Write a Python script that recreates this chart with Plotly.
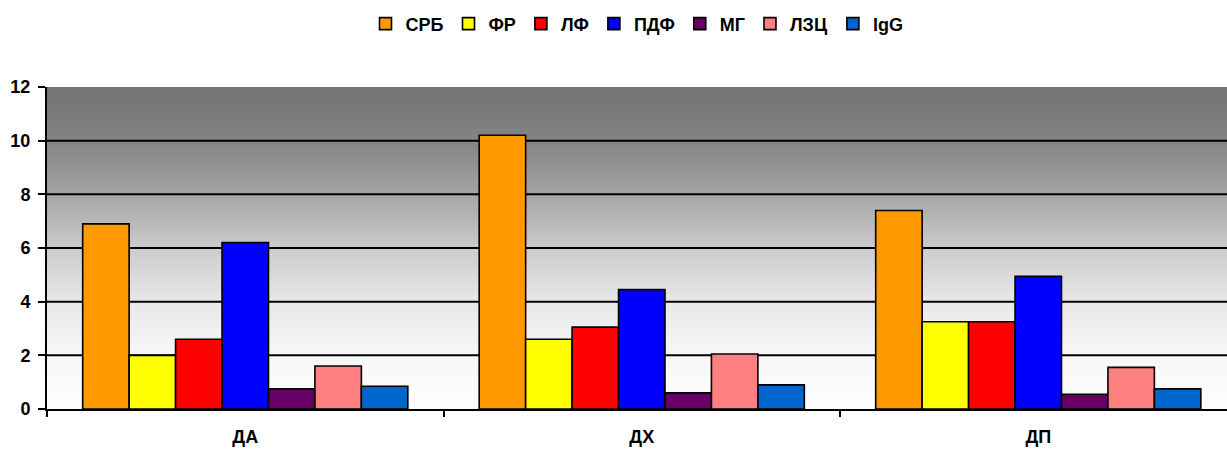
import numpy as np
import plotly.graph_objects as go

# Groups and series
categories = ["ДА", "ДХ", "ДП"]
series_names = ["СРБ", "ФР", "ЛФ", "ПДФ", "МГ", "ЛЗЦ", "IgG"]
srb = [6.9, 10.2, 7.4]
fr = [2.0, 2.6, 3.25]
lf = [2.6, 3.05, 3.25]
pdf = [6.2, 4.45, 4.95]
mg = [0.75, 0.6, 0.55]
lzc = [1.6, 2.05, 1.55]
igg = [0.85, 0.9, 0.75]
y_ticks = [0, 2, 4, 6, 8, 10, 12]

values = [srb, fr, lf, pdf, mg, lzc, igg]
colors = ["#FF9900", "#FFFF00", "#FF0000", "#0000FF", "#660066", "#FF8080", "#0066CC"]

FONT = "Arial, Liberation Sans, sans-serif"

fig = go.Figure()
for name, vals, col in zip(series_names, values, colors):
    fig.add_trace(go.Bar(
        name=name, x=categories, y=vals,
        marker=dict(color=col, line=dict(color="black", width=1.6)),
    ))

# Grey-to-white background gradient: grey level at a few heights, interpolated
grad_pos = [0, 2, 4, 6, 8, 10, 12]
grad_grey = [253, 247, 232, 203, 165, 132, 115]
shapes = []
n_bands = 160
for i in range(n_bands):
    y0 = 12 * i / n_bands
    mid = 12 * (i + 0.5) / n_bands
    g = int(round(np.interp(mid, grad_pos, grad_grey)))
    # each band runs to the top so later bands cover the seams of earlier ones
    shapes.append(dict(
        type="rect", xref="paper", yref="y", x0=0, x1=1, y0=y0, y1=12,
        fillcolor=f"rgb({g},{g},{g})", line=dict(width=0), layer="below",
    ))

# Horizontal gridlines (none along the top edge)
for v in y_ticks[1:-1]:
    shapes.append(dict(
        type="line", xref="paper", yref="y", x0=0, x1=1, y0=v, y1=v,
        line=dict(color="black", width=2), layer="between",
    ))

fig.update_layout(
    width=1227, height=450,
    margin=dict(l=47, r=0, t=87, b=41),
    paper_bgcolor="white", plot_bgcolor="rgba(0,0,0,0)",
    barmode="group", bargap=0.18, bargroupgap=0,
    font=dict(family=FONT, size=18, color="black"),
    showlegend=True,
    legend=dict(
        orientation="h", x=0.5, xanchor="center", y=1.196, yanchor="middle",
        font=dict(family=FONT, size=18, color="black", weight="bold"),
        itemwidth=30, tracegroupgap=0, traceorder="normal",
    ),
    shapes=shapes,
)

fig.update_xaxes(
    type="category", range=[-0.5, 2.476],
    showline=True, linecolor="black", linewidth=2,
    ticks="outside", tickson="boundaries", ticklen=6, tickwidth=1.5, tickcolor="black",
    tickfont=dict(family=FONT, size=18, color="black", weight="bold"),
    ticklabelstandoff=10,
    showgrid=False,
)
fig.update_yaxes(
    range=[0, 12], tickvals=y_ticks,
    showline=True, linecolor="black", linewidth=2,
    ticks="outside", ticklen=7, tickwidth=1.5, tickcolor="black",
    tickfont=dict(family=FONT, size=18, color="black", weight="bold"),
    ticklabelstandoff=4,
    showgrid=False, zeroline=False,
)

fig.write_html("out.html")
